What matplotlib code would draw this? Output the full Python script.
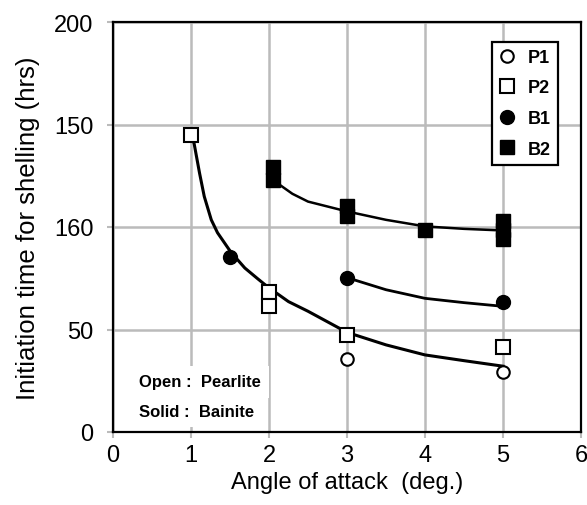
import matplotlib.pyplot as plt

plt.rcParams['font.family'] = ['Liberation Sans', 'DejaVu Sans']

# measured points
p1_x = [3, 5]
p1_y = [35.6, 29.4]
p2_x = [1, 2, 2, 3, 5]
p2_y = [145.0, 68.4, 61.4, 47.4, 41.5]
b1_x = [1.5, 3, 5]
b1_y = [85.5, 75.3, 63.3]
b2_x = [2.05, 2.05, 3, 3, 4, 5, 5, 5]
b2_y = [129.5, 122.9, 110.3, 105.5, 98.7, 102.8, 98.4, 94.0]

# trend curves
curve_p_x = [1.0, 1.04, 1.11, 1.17, 1.26, 1.34, 1.51, 1.69, 1.86, 1.99, 2.25, 2.5,
             3.0, 3.5, 4.0, 4.5, 5.0]
curve_p_y = [145.0, 140.7, 126.2, 114.9, 103.5, 97.2, 87.8, 80.0, 74.6, 70.6, 63.6, 58.9,
             48.6, 42.5, 37.6, 34.8, 32.1]
curve_b1_x = [3.0, 3.5, 4.0, 4.5, 5.0]
curve_b1_y = [75.3, 69.4, 65.2, 63.1, 61.3]
curve_b2_x = [2.14, 2.3, 2.5, 3.0, 3.5, 4.0, 4.5, 5.0]
curve_b2_y = [120.5, 116.2, 112.4, 107.6, 103.5, 100.3, 99.1, 98.3]

x_ticks = [0, 1, 2, 3, 4, 5, 6]
y_ticks = [0, 50, 100, 150, 200]
y_tick_labels = ["0", "50", "160", "150", "200"]

fig = plt.figure(figsize=(5.87, 5.06), dpi=100)
ax = fig.add_axes([113 / 587, 1 - 433 / 506, 468 / 587, 410 / 506])

ax.plot(curve_p_x, curve_p_y, color="black", lw=2.2, zorder=2)
ax.plot(curve_b1_x, curve_b1_y, color="black", lw=2, zorder=2)
ax.plot(curve_b2_x, curve_b2_y, color="black", lw=1.8, zorder=2)

ax.plot(p1_x, p1_y, "o", ms=9, mfc="white", mec="black", mew=1.5, label="P1", zorder=3)
ax.plot(p2_x, p2_y, "s", ms=10.5, mfc="white", mec="black", mew=1.5, label="P2", zorder=3)
ax.plot(b1_x, b1_y, "o", ms=10, mfc="black", mec="black", label="B1", zorder=3)
ax.plot(b2_x, b2_y, "s", ms=10.5, mfc="black", mec="black", mew=1, label="B2", zorder=3)

ax.set_xlim(0, 6)
ax.set_ylim(0, 200)
ax.set_xticks(x_ticks)
ax.set_yticks(y_ticks)
ax.set_yticklabels(y_tick_labels)
ax.tick_params(labelsize=17, length=4, color="#bbbbbb", width=1.5)
ax.tick_params(axis="x", pad=5)
ax.tick_params(axis="y", pad=10)
ax.grid(True, color="#bbbbbb", lw=1.8)
ax.set_axisbelow(True)
for s in ax.spines.values():
    s.set_linewidth(1.6)

ax.set_xlabel("Angle of attack  (deg.)", fontsize=17, labelpad=3)
ax.set_ylabel("Initiation time for shelling (hrs)", fontsize=18.5, labelpad=10)

leg = ax.legend(loc="upper right", bbox_to_anchor=(0.951, 0.952), fancybox=False,
                edgecolor="black", framealpha=1, prop={"weight": "bold", "size": 13},
                handlelength=0.9, handletextpad=0.7, labelspacing=0.75, borderpad=0.4,
                borderaxespad=0)
leg.get_frame().set_linewidth(1.6)

ax.text(0.055, 0.122, "Open :  Pearlite", transform=ax.transAxes, fontsize=12,
        fontweight="bold", va="center", zorder=4,
        bbox=dict(facecolor="white", edgecolor="none", pad=6))
ax.text(0.055, 0.051, "Solid :  Bainite", transform=ax.transAxes, fontsize=12,
        fontweight="bold", va="center", zorder=4,
        bbox=dict(facecolor="white", edgecolor="none", pad=6))

fig.savefig("out.png", dpi=100)
